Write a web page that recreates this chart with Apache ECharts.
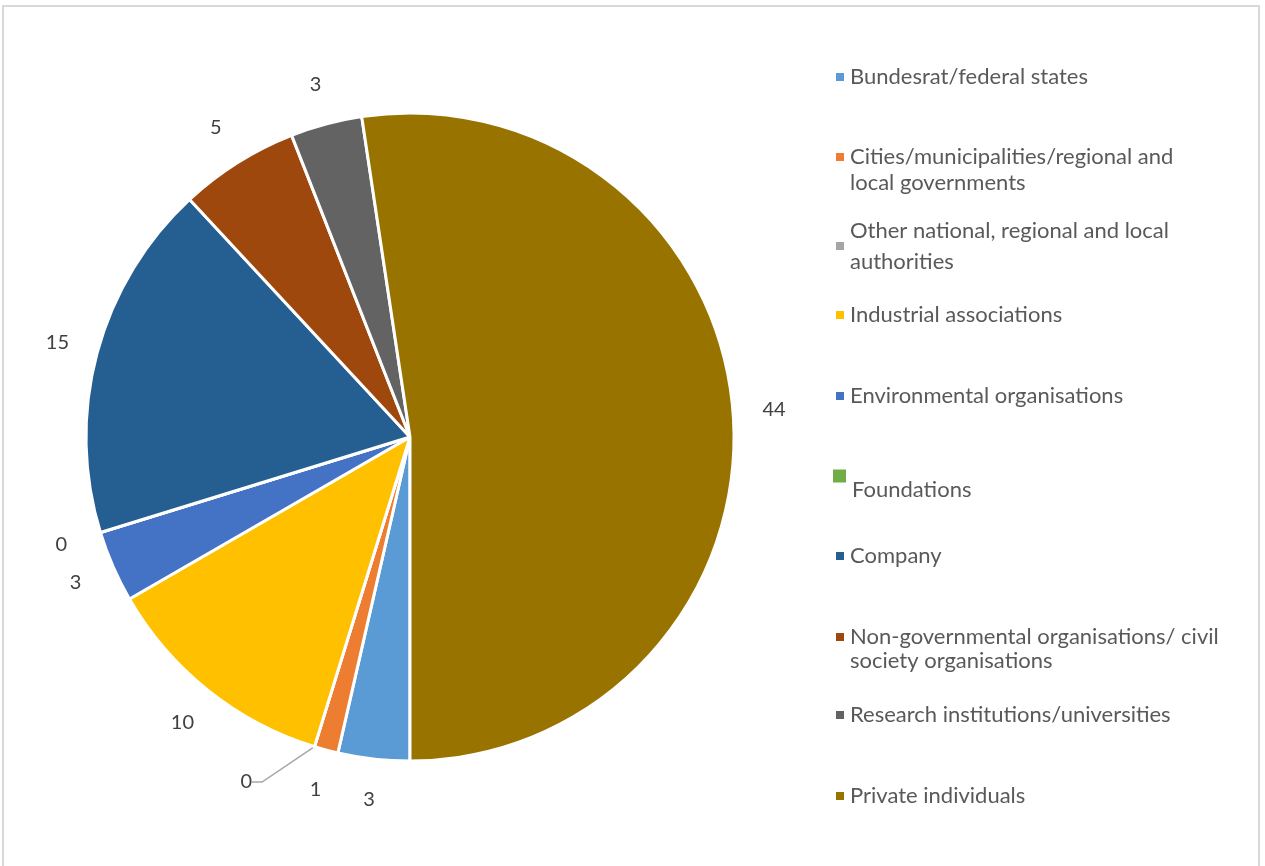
<!DOCTYPE html>
<html>
<head>
<meta charset="utf-8">
<script src="https://cdn.jsdelivr.net/npm/echarts@6/dist/echarts.min.js"></script>
<style>
  html, body { margin: 0; padding: 0; background: #fff; }
  #chart { width: 1265px; height: 866px; }
</style>
</head>
<body>
<div id="chart"></div>
<script>
// ---- Data ----
const categories = [
  'Bundesrat/federal states',
  'Cities/municipalities/regional and local governments',
  'Other national, regional and local authorities',
  'Industrial associations',
  'Environmental organisations',
  'Foundations',
  'Company',
  'Non-governmental organisations/ civil society organisations',
  'Research institutions/universities',
  'Private individuals'
];
const values = [3, 1, 0, 10, 3, 0, 15, 5, 3, 44];
const colors = ['#5B9BD5', '#ED7D31', '#A5A5A5', '#FFC000', '#4472C4', '#70AD47', '#255E91', '#9E480E', '#636363', '#997300'];

// ---- Layout/style ----
const FONT = 'Lato, "Open Sans", sans-serif';
const center = [410, 437];
const R = 324;

// legend placement per item: [left, top, blankLine ('' | 'before' | 'after'), lineHeight, wrapWidth, iconSize]
const legendLayout = [
  [834, 64, '', 26, 400, 10],
  [834, 118, 'before', 26, 350, 10],
  [834, 215, 'after', 31, 350, 10],
  [834, 302, '', 26, 400, 10],
  [834, 383, '', 26, 400, 10],
  [831, 448, 'before', 28, 400, 15],
  [834, 543, '', 26, 400, 10],
  [834, 601, 'before', 24, 385, 10],
  [834, 702, '', 26, 400, 10],
  [834, 783, '', 26, 400, 10]
];

const legends = categories.map((name, i) => {
  const [left, top, blank, lh, w, icon] = legendLayout[i];
  return {
    orient: 'vertical',
    left: left,
    top: top,
    padding: 0,
    itemWidth: icon,
    itemHeight: icon,
    itemGap: 0,
    icon: 'rect',
    selectedMode: false,
    data: [name],
    formatter: function (n) {
      if (blank === 'before') return '\n' + n;
      if (blank === 'after') return n + '\n';
      return n;
    },
    textStyle: {
      fontFamily: FONT,
      fontSize: 22,
      color: '#595959',
      lineHeight: lh,
      width: w,
      overflow: 'break'
    }
  };
});

const pieData = categories.map((name, i) => ({
  name: name,
  value: values[i],
  itemStyle: { color: colors[i] }
}));

const option = {
  backgroundColor: '#ffffff',
  animation: false,
  color: colors,
  legend: legends,
  graphic: [{
    type: 'rect',
    shape: { x: 3, y: 6, width: 1256, height: 900 },
    style: { fill: 'none', stroke: '#D9D9D9', lineWidth: 2 },
    silent: true
  }],
  series: [
    {
      type: 'pie',
      center: center,
      radius: [0, R],
      startAngle: -90,
      clockwise: true,
      avoidLabelOverlap: false,
      itemStyle: { borderColor: '#ffffff', borderWidth: 3 },
      label: { show: false },
      labelLine: { show: false },
      emphasis: { disabled: true },
      data: pieData.map((d, i) => i === 2 ? Object.assign({}, d, {
        label: {
          show: true, position: 'outside', formatter: '{c}',
          fontFamily: FONT, fontSize: 20, color: '#404040'
        },
        labelLine: {
          show: true, length: 20, length2: 10,
          lineStyle: { color: '#A6A6A6', width: 1.5 }
        }
      }) : d),
      labelLayout: function (p) {
        if (p.dataIndex === 2) {
          return { x: 252, y: 782, align: 'right', verticalAlign: 'middle' };
        }
      }
    },
    {
      type: 'pie',
      center: center,
      radius: [R, 400],
      startAngle: -90,
      clockwise: true,
      silent: true,
      avoidLabelOverlap: false,
      itemStyle: { color: 'rgba(0,0,0,0)', borderWidth: 0 },
      label: {
        show: true,
        position: 'inside',
        formatter: '{c}',
        fontFamily: FONT,
        fontSize: 20,
        color: '#404040'
      },
      labelLine: { show: false },
      emphasis: { disabled: true },
      data: pieData.map((d, i) => ({
        name: d.name,
        value: d.value,
        label: { show: i !== 2 }
      }))
    }
  ]
};

const chart = echarts.init(document.getElementById('chart'), null, { renderer: 'canvas' });
chart.setOption(option);
</script>
</body>
</html>
